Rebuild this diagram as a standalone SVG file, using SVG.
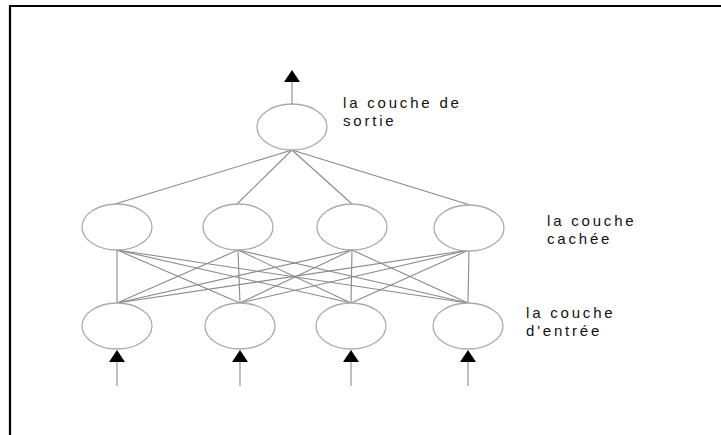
<svg xmlns="http://www.w3.org/2000/svg" width="721" height="435" viewBox="0 0 721 435">
<style>
.node{fill:#fff;stroke:#aaa;stroke-width:1.3}
.edge{stroke:#8a8a8a;stroke-width:1.1;fill:none}
.io{stroke:#b0b0b0;stroke-width:1.6;fill:none}
.lbl{font-family:"Liberation Sans",Arial,sans-serif;font-size:15px;letter-spacing:2.8px;fill:#111}
</style>
<defs>
<polygon id="ah" points="0,-6 8,6 -8,6" fill="#000"/>
</defs>
<rect width="721" height="435" fill="#fff"/>
<path d="M10,435 V6 H721" stroke="#000" stroke-width="2.2" fill="none"/>
<g id="connectors">
<line class="io" x1="292" y1="104" x2="292" y2="80"/>
<use href="#ah" x="292" y="76"/>
<line class="edge" x1="292" y1="150" x2="115" y2="204"/>
<line class="edge" x1="292" y1="150" x2="237" y2="204"/>
<line class="edge" x1="292" y1="150" x2="352" y2="204"/>
<line class="edge" x1="292" y1="150" x2="470" y2="205"/>
<g>
<line class="edge" x1="117" y1="250" x2="117" y2="303"/>
<line class="edge" x1="117" y1="250" x2="240" y2="303"/>
<line class="edge" x1="117" y1="250" x2="351" y2="303"/>
<line class="edge" x1="117" y1="250" x2="468" y2="303"/>
<line class="edge" x1="238" y1="250" x2="117" y2="303"/>
<line class="edge" x1="238" y1="250" x2="240" y2="303"/>
<line class="edge" x1="238" y1="250" x2="351" y2="303"/>
<line class="edge" x1="238" y1="250" x2="468" y2="303"/>
<line class="edge" x1="352" y1="250" x2="117" y2="303"/>
<line class="edge" x1="352" y1="250" x2="240" y2="303"/>
<line class="edge" x1="352" y1="250" x2="351" y2="303"/>
<line class="edge" x1="352" y1="250" x2="468" y2="303"/>
<line class="edge" x1="469" y1="250" x2="117" y2="303"/>
<line class="edge" x1="469" y1="250" x2="240" y2="303"/>
<line class="edge" x1="469" y1="250" x2="351" y2="303"/>
<line class="edge" x1="469" y1="250" x2="468" y2="303"/>
</g>
<line class="io" x1="117" y1="362" x2="117" y2="386"/>
<line class="io" x1="240" y1="362" x2="240" y2="386"/>
<line class="io" x1="351" y1="362" x2="351" y2="386"/>
<line class="io" x1="468" y1="362" x2="468" y2="386"/>
<use href="#ah" x="117" y="356"/>
<use href="#ah" x="240" y="356"/>
<use href="#ah" x="351" y="356"/>
<use href="#ah" x="468" y="356"/>
</g>
<g id="out1"><ellipse class="node" cx="292" cy="127" rx="35" ry="23"/></g>
<g id="hid1"><ellipse class="node" cx="117" cy="227" rx="35" ry="23"/></g>
<g id="hid2"><ellipse class="node" cx="238" cy="227" rx="35" ry="23"/></g>
<g id="hid3"><ellipse class="node" cx="352" cy="227" rx="35" ry="23"/></g>
<g id="hid4"><ellipse class="node" cx="469" cy="228" rx="35" ry="23"/></g>
<g id="in1"><ellipse class="node" cx="117" cy="326" rx="35" ry="23"/></g>
<g id="in2"><ellipse class="node" cx="240" cy="326" rx="35" ry="23"/></g>
<g id="in3"><ellipse class="node" cx="351" cy="326" rx="35" ry="23"/></g>
<g id="in4"><ellipse class="node" cx="468" cy="326" rx="35" ry="23"/></g>
<g id="labels">
<text class="lbl" x="343" y="108">la couche de</text>
<text class="lbl" x="343" y="126">sortie</text>
<text class="lbl" x="547" y="226">la couche</text>
<text class="lbl" x="547" y="244">cachée</text>
<text class="lbl" x="526" y="318">la couche</text>
<text class="lbl" x="526" y="336">d'entrée</text>
</g>
</svg>
